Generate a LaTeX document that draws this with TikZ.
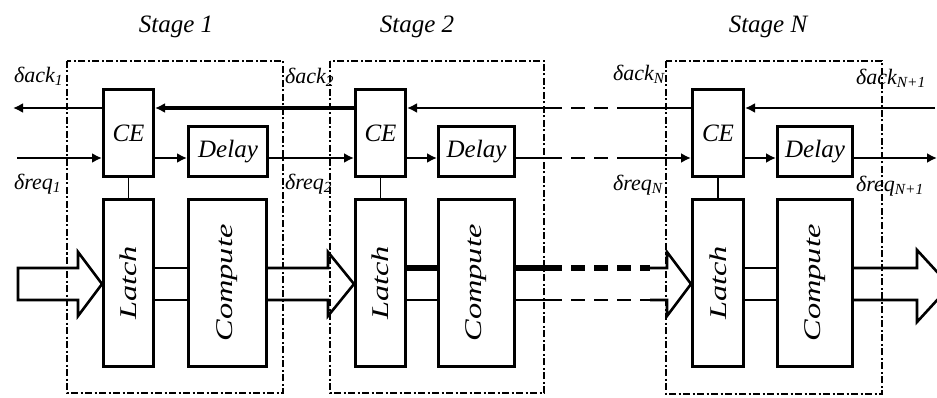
\documentclass[tikz,border=0pt]{standalone}
\usepackage{fontspec}
\setmainfont{Liberation Serif}
\usepackage{graphicx}
\usetikzlibrary{arrows.meta}
\begin{document}
\begin{tikzpicture}[x=1pt,y=-1pt,
  blk/.style={draw, line width=3pt, anchor=north west, inner sep=0pt, font=\fontsize{25}{27}\selectfont\itshape},
  vtxt/.style={rotate=90, inner sep=0pt, font=\fontsize{24}{26}\selectfont\itshape},
  sig/.style={line width=2.6pt},
  tip/.style={-{Latex[length=10pt,width=10pt]}},
  brk/.style={dash pattern=on 14pt off 9pt},
  stagebox/.style={draw, line width=1.5pt, dash pattern=on 7pt off 2.5pt on 2pt off 2.5pt},
  lbl/.style={font=\fontsize{22}{24}\selectfont\itshape, inner sep=0pt, anchor=west},
  ttl/.style={font=\fontsize{25}{27}\selectfont\itshape},
  data/.style={line width=2.6pt, line join=miter},
  fat/.style={line width=5.5pt}]
\useasboundingbox (0,0) rectangle (937,398);

% stage frames
\draw[stagebox] (67,61) rectangle (283,393);
\draw[stagebox] (330,61) rectangle (544,393);
\draw[stagebox] (666,61) rectangle (882,394);

% titles
\node[ttl] (t1) at (176,27) {Stage 1};
\node[ttl] (t2) at (417,27) {Stage 2};
\node[ttl] (tN) at (768,27) {Stage N};

% blocks stage 1
\node[blk, minimum width=50pt, minimum height=87pt] (ce1) at (102,88) {CE};
\node[blk, minimum width=79pt, minimum height=50pt] (dl1) at (187,125) {Delay};
\node[blk, minimum width=50pt, minimum height=167pt] (la1) at (102,198) {};
\node[blk, minimum width=78pt, minimum height=167pt] (co1) at (187,198) {};
\node[vtxt] (la1t) at (la1.center) {\scalebox{1.35}[1]{Latch}};
\node[vtxt] (co1t) at (co1.center) {\scalebox{1.35}[1]{Compute}};
% stage 2
\node[blk, minimum width=50pt, minimum height=87pt] (ce2) at (354,88) {CE};
\node[blk, minimum width=76pt, minimum height=50pt] (dl2) at (437,125) {Delay};
\node[blk, minimum width=50pt, minimum height=167pt] (la2) at (354,198) {};
\node[blk, minimum width=76pt, minimum height=167pt] (co2) at (437,198) {};
\node[vtxt] (la2t) at (la2.center) {\scalebox{1.35}[1]{Latch}};
\node[vtxt] (co2t) at (co2.center) {\scalebox{1.35}[1]{Compute}};
% stage N
\node[blk, minimum width=51pt, minimum height=87pt] (ceN) at (691,88) {CE};
\node[blk, minimum width=75pt, minimum height=50pt] (dlN) at (776,125) {Delay};
\node[blk, minimum width=51pt, minimum height=167pt] (laN) at (691,198) {};
\node[blk, minimum width=75pt, minimum height=167pt] (coN) at (776,198) {};
\node[vtxt] (laNt) at (laN.center) {\scalebox{1.35}[1]{Latch}};
\node[vtxt] (coNt) at (coN.center) {\scalebox{1.35}[1]{Compute}};

% CE to latch
\draw[line width=1.8pt] (ce1.south) -- (la1.north);
\draw[line width=1.8pt] (ce2.south) -- (la2.north);
\draw[line width=1.8pt] (ceN.south) -- (laN.north);

% reference levels
\coordinate (ay) at (0,108);
\coordinate (ry) at (0,158);
\coordinate (dy) at (0,284);
\coordinate (dt) at (0,268);
\coordinate (db) at (0,300);

% ack chain
\coordinate (ackin) at (13,108);
\coordinate (a2e) at (548,108);
\coordinate (aNs) at (628,108);
\coordinate (ackout) at (935,108);
\draw[sig,tip] (ce1.west|-ay) -- (ackin);
\draw[sig,tip,line width=3.8pt] (ce2.west|-ay) -- (ce1.east|-ay);
\draw[sig,tip] (a2e) -- (ce2.east|-ay);
\draw[sig,brk] (a2e) -- (aNs);
\draw[sig] (ceN.west|-ay) -- (aNs);
\draw[sig,tip] (ackout) -- (ceN.east|-ay);

% req chain
\coordinate (reqin) at (17,158);
\coordinate (r2e) at (548,158);
\coordinate (rNs) at (628,158);
\coordinate (reqout) at (937,158);
\draw[sig,tip] (reqin) -- (ce1.west|-ry);
\draw[sig,tip] (ce1.east|-ry) -- (dl1.west|-ry);
\draw[sig,tip] (dl1.east|-ry) -- (ce2.west|-ry);
\draw[sig,tip] (ce2.east|-ry) -- (dl2.west|-ry);
\draw[sig] (dl2.east|-ry) -- (r2e);
\draw[sig,brk] (r2e) -- (rNs);
\draw[sig,tip] (rNs) -- (ceN.west|-ry);
\draw[sig,tip] (ceN.east|-ry) -- (dlN.west|-ry);
\draw[sig,tip] (dlN.east|-ry) -- (reqout);

% data path
\draw[data] (78,268) -- (18,268) -- (18,300) -- (78,300) -- (78,316) -- (la1.west|-dy) -- (78,252) -- cycle;
\draw[data] (la1.east|-dt) -- (co1.west|-dt);
\draw[data] (la1.east|-db) -- (co1.west|-db);
\draw[data] (co1.east|-dt) -- (328,268) -- (328,252) -- (la2.west|-dy) -- (328,316) -- (328,300) -- (co1.east|-db);
\draw[fat] (la2.east|-dt) -- (co2.west|-dt);
\draw[data] (la2.east|-db) -- (co2.west|-db);
\draw[fat] (co2.east|-dt) -- (548,268);
\draw[fat,brk] (548,268) -- (650,268);
\draw[data] (co2.east|-db) -- (548,300);
\draw[data,brk] (548,300) -- (650,300);
\draw[data] (650,268) -- (667,268) -- (667,252) -- (laN.west|-dy) -- (667,316) -- (667,300) -- (650,300);
\draw[data] (laN.east|-dt) -- (coN.west|-dt);
\draw[data] (laN.east|-db) -- (coN.west|-db);
\draw[data] (coN.east|-dt) -- (917,268) -- (917,250) -- (950,286) -- (917,322) -- (917,300) -- (coN.east|-db);

% labels
\node[lbl] (lack1) at (14,76) {δack\textsubscript{1}};
\node[lbl] (lreq1) at (14,184) {δreq\textsubscript{1}};
\node[lbl] (lack2) at (285,77) {δack\textsubscript{2}};
\node[lbl] (lreq2) at (285,184) {δreq\textsubscript{2}};
\node[lbl] (lackN) at (613,74) {δack\textsubscript{N}};
\node[lbl] (lreqN) at (613,185) {δreq\textsubscript{N}};
\node[lbl] (lackO) at (856,78) {δack\textsubscript{N+1}};
\node[lbl] (lreqO) at (856,186) {δreq\textsubscript{N+1}};
\end{tikzpicture}
\end{document}
